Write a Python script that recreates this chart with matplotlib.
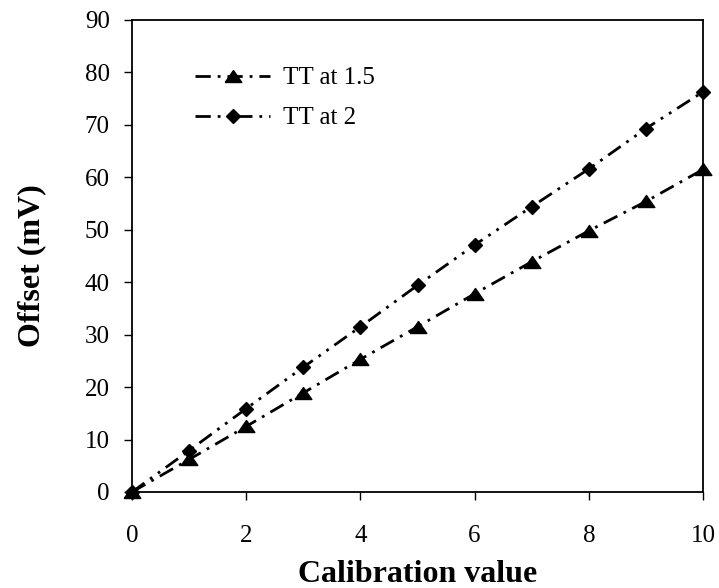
import numpy as np
import matplotlib.pyplot as plt

# calibration values and measured offsets (mV)
calibration = [0, 1, 2, 3, 4, 5, 6, 7, 8, 9, 10]
tt_15 = [0, 6.2, 12.5, 18.9, 25.3, 31.5, 37.8, 43.9, 49.8, 55.4, 61.5]
tt_2 = [0, 7.9, 15.9, 23.8, 31.5, 39.4, 47.1, 54.4, 61.6, 69.3, 76.3]

plt.rcParams['font.family'] = ['Liberation Serif', 'DejaVu Serif']

# wide, flat triangle like the original marker
tri = [(-1, -0.72), (1, -0.72), (0, 0.72), (-1, -0.72)]

fig = plt.figure(figsize=(7.19, 5.88), dpi=100)
ax = fig.add_axes([132/719, 1 - 492/588, (703 - 132)/719, (492 - 20)/588])

ax.plot(calibration, tt_15, color='black', lw=2, linestyle=(0, (5.5, 2.5, 1, 2.5)),
        marker=tri, markersize=12, label='TT at 1.5', clip_on=False)
ax.plot(calibration, tt_2, color='black', lw=2, linestyle=(0, (5.5, 2.5, 1, 2.5, 1, 2.5)),
        marker='D', markersize=7, label='TT at 2', clip_on=False)

ax.set_xlim(0, 10)
ax.set_ylim(0, 90)
ax.set_xticks(np.arange(0, 11, 2))
ax.set_yticks(np.arange(0, 91, 10))
ax.tick_params(direction='out', length=6, width=1, labelsize=18)
ax.tick_params(axis='x', pad=18)
ax.tick_params(axis='y', pad=10)
for s in ax.spines.values():
    s.set_linewidth(1.3)

ax.set_xlabel('Calibration value', fontsize=23, fontweight='bold')
ax.set_ylabel('Offset (mV)', fontsize=23, fontweight='bold')
ax.xaxis.set_label_coords(0.5, -0.145)
ax.yaxis.set_label_coords(-0.151, 0.48)

ax.legend(loc='upper left', bbox_to_anchor=(0.08, 0.938), frameon=False, fontsize=18,
          handlelength=3.0, handletextpad=0.5, labelspacing=0.7, borderpad=0.2)

fig.savefig('out.png', dpi=100)
